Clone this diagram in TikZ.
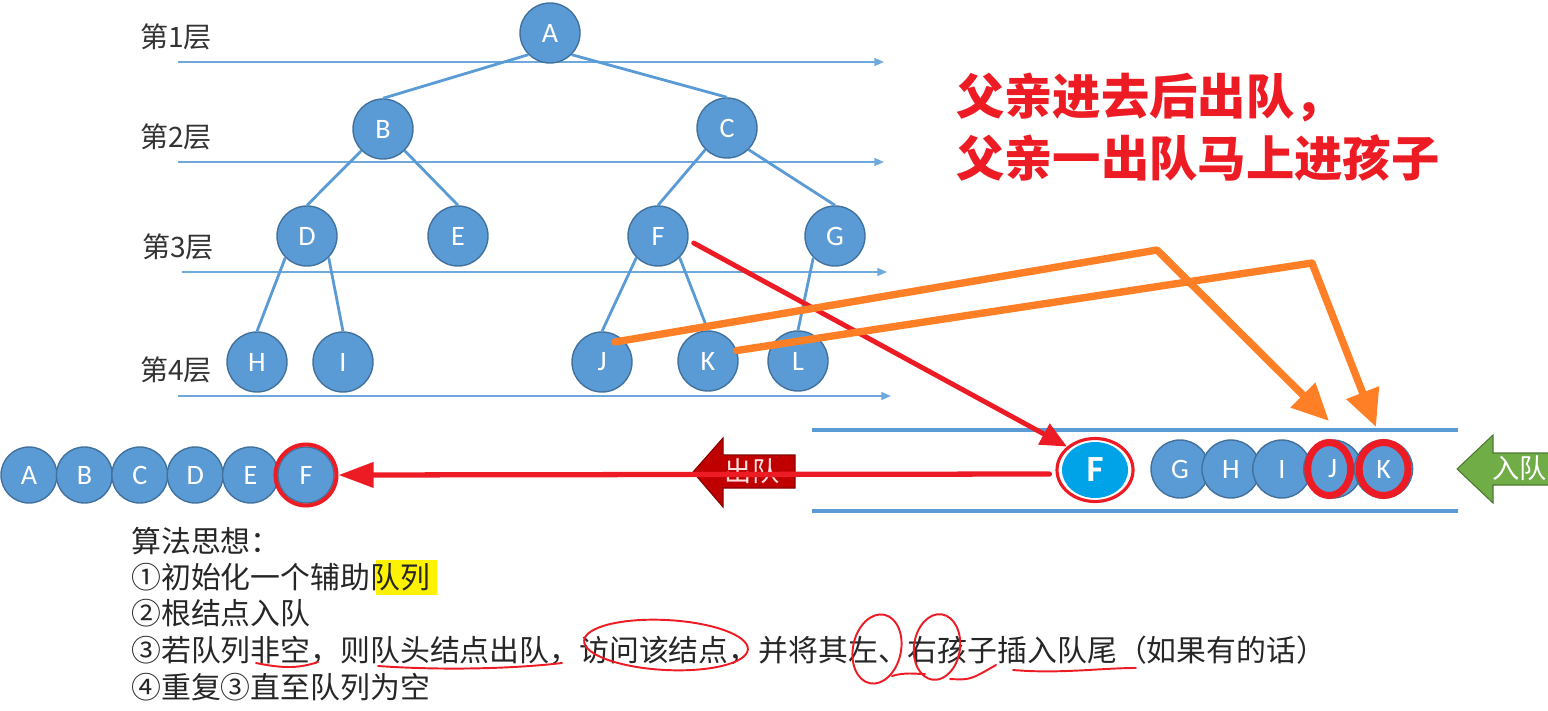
\documentclass[tikz,border=0pt]{standalone}
\usepackage{fontspec}
\setmainfont{Carlito}
\newfontfamily\cjk{Noto Sans CJK SC}
\usetikzlibrary{arrows.meta, positioning, shapes.geometric}

\definecolor{nodeblue}{HTML}{5B9BD5}
\definecolor{nodeedge}{HTML}{41719C}
\definecolor{layerblue}{HTML}{6FA8DC}
\definecolor{markred}{HTML}{ED1C24}
\definecolor{feedorange}{HTML}{FF7F27}
\definecolor{headcyan}{HTML}{00A2E8}
\definecolor{outred}{HTML}{C00000}
\definecolor{ingreen}{HTML}{70AD47}

\begin{document}
\begin{tikzpicture}[
  x=0.02cm, y=-0.02cm,
  tnode/.style={circle, draw=nodeedge, line width=0.8pt, fill=nodeblue, text=white, minimum size=1.2cm, inner sep=0pt, font=\fontsize{16}{16}\selectfont},
  qnode/.style={tnode, minimum size=1.12cm},
  branch/.style={nodeblue, line width=1.6pt},
  layerline/.style={layerblue, line width=1pt, -{Triangle[length=5.5pt, width=4.5pt]}},
  layertext/.style={font=\cjk\fontsize{16}{16}\selectfont, text=black!80},
  ring/.style={draw=markred, inner sep=0pt},
  redarrow/.style={markred, line width=2.8pt, line cap=round, -{Triangle[length=15pt, width=13pt]}},
  feed/.style={feedorange, line width=4.2pt, line cap=round, line join=round, -{Triangle[length=21pt, width=19pt]}},
  chan/.style={nodeblue, line width=2.2pt},
  steptext/.style={anchor=west, inner sep=0pt, font=\cjk\fontsize{17}{17}\selectfont, text=black!85},
  pen/.style={markred, line width=1.1pt, line cap=round}
]
  \useasboundingbox (0,0) rectangle (1548,710);

  % layer lines
  \draw[layerline] (178,62) -- (884,62);
  \draw[layerline] (178,162) -- (884,162);
  \draw[layerline] (182,272) -- (887,272);
  \draw[layerline] (178,396) -- (891,396);
  \node[layertext] (lv1) at (176,37) {第1层};
  \node[layertext] (lv2) at (176,137) {第2层};
  \node[layertext] (lv3) at (178,247) {第3层};
  \node[layertext] (lv4) at (176,370) {第4层};

  % tree
  \node[tnode] (tA) at (550,33) {A};
  \node[tnode] (tB) at (383,129) {B};
  \node[tnode] (tC) at (727,128) {C};
  \node[tnode] (tD) at (307,236) {D};
  \node[tnode] (tE) at (458,236) {E};
  \node[tnode] (tF) at (658,236) {F};
  \node[tnode] (tG) at (835,236) {G};
  \node[tnode] (tH) at (257,362) {H};
  \node[tnode] (tI) at (343,362) {I};
  \node[tnode] (tJ) at (602,362) {J};
  \node[tnode] (tK) at (708,361) {K};
  \node[tnode] (tL) at (798,361) {L};

  \draw[branch] (tA.south west) -- (tB.north);
  \draw[branch] (tA.south east) -- (tC.north);
  \draw[branch] (tB.south west) -- (tD.north);
  \draw[branch] (tB.south east) -- (tE.north);
  \draw[branch] (tC.south west) -- (tF.north);
  \draw[branch] (tC.south east) -- (tG.north);
  \draw[branch] (tD.south west) -- (tH.north);
  \draw[branch] (tD.south east) -- (tI.north);
  \draw[branch] (tF.south west) -- (tJ.north);
  \draw[branch] (tF.south east) -- (tK.north);
  \draw[branch] (tG.south west) -- (tL.north);

  % visited sequence
  \node[qnode] (oA) at (29,475) {A};
  \node[qnode, right=-0.04cm of oA] (oB) {B};
  \node[qnode, right=-0.04cm of oB] (oC) {C};
  \node[qnode, right=-0.04cm of oC] (oD) {D};
  \node[qnode, right=-0.04cm of oD] (oE) {E};
  \node[qnode, right=-0.04cm of oE] (oF) {F};
  \node[ring, circle, line width=2.3pt, minimum size=1.22cm] (rF) at (oF) {};

  % queue
  \draw[chan] (812,430) -- (1458,430);
  \draw[chan] (812,511) -- (1458,511);
  \fill[outred, draw=outred!70!black, line width=0.6pt] (693,472) -- (723,438) -- (723,455) -- (795,455)
    -- (795,488) -- (723,488) -- (723,507) -- cycle;
  \node[font=\cjk\fontsize{15.5}{16}\selectfont, text=red!12!white] (outtag) at (752,471) {出队};
  \fill[ingreen, draw=ingreen!70!black, line width=0.6pt] (1457,469) -- (1493,435) -- (1493,453) -- (1560,453)
    -- (1560,485) -- (1493,485) -- (1493,503) -- cycle;
  \node[anchor=west, inner sep=0pt, font=\cjk\fontsize{15.5}{16}\selectfont, text=white] (intag) at (1492,468) {入队};

  \node[ellipse, fill=headcyan, text=white, minimum width=1.32cm, minimum height=1.12cm, inner sep=0pt,
    font=\bfseries\fontsize{21}{21}\selectfont] (qF) at (1095,470) {F};
  \node[ring, ellipse, line width=1.8pt, minimum width=1.52cm, minimum height=1.26cm] (rQF) at (qF) {};
  \node[tnode, minimum size=1.16cm] (qG) at (1180,469) {G};
  \node[tnode, minimum size=1.16cm, right=-0.17cm of qG] (qH) {H};
  \node[tnode, minimum size=1.16cm, right=-0.17cm of qH] (qI) {I};
  \node[tnode, minimum size=1.16cm, right=-0.17cm of qI] (qJ) {J};
  \node[tnode, minimum size=1.16cm, right=-0.17cm of qJ] (qK) {K};
  \node[ring, ellipse, line width=4pt, minimum width=0.86cm, minimum height=1.06cm] (rJ) at ([xshift=-2pt]qJ) {};
  \node[ring, ellipse, line width=4pt, minimum width=0.98cm, minimum height=1.06cm] (rK) at (qK) {};

  % father out, children in
  \draw[redarrow] ([shift={(5,7)}]tF.east) -- (rQF.north west);
  \draw[redarrow, line width=3pt, -{Triangle[length=20pt, width=14pt]}] ([shift={(-6,4)}]rQF.west) -- (rF.east);
  \coordinate (jIn) at (1329,421);
  \coordinate (kIn) at (1376,427);
  \draw[feed] ([shift={(13,-20)}]tJ.center) -- (1157,250) -- (jIn);
  \draw[feed] (tK.20) -- (1312,263) -- (kIn);

  \node[anchor=west, align=left, font=\cjk\bfseries\fontsize{27.5}{35.7}\selectfont, text=markred] (note) at (950,127)
    {父亲进去后出队，\\父亲一出队马上进孩子};

  % algorithm
  \fill[yellow] (376,560) rectangle (437,595);
  \node[steptext] (s0) at (131,541) {算法思想：};
  \node[steptext] (s1) at (131,577) {①初始化一个辅助队列};
  \node[steptext] (s2) at (131,613) {②根结点入队};
  \node[steptext] (s3) at (131,650) {③若队列非空，则队头结点出队，访问该结点，并将其左、右孩子插入队尾（如果有的话）};
  \node[steptext] (s4) at (131,687) {④重复③直至队列为空};

  \draw[pen] (256,663) .. controls (285,669) and (300,668) .. (318,662);
  \draw[pen] (378,666) .. controls (450,671) and (520,668) .. (562,663);
  \draw[pen, rotate around={-3:(666,645)}] (666,645) ellipse [x radius=1.64cm, y radius=0.5cm];
  \draw[pen, rotate around={-12:(877,649)}] (877,649) ellipse [x radius=0.48cm, y radius=0.7cm];
  \draw[pen, rotate around={-8:(937,647)}] (937,647) ellipse [x radius=0.46cm, y radius=0.66cm];
  \draw[pen] (892,676) .. controls (905,672) and (915,674) .. (925,674);
  \draw[pen] (950,679) .. controls (970,680) .. (996,665);
  \draw[pen] (1013,670) .. controls (1060,674) and (1100,668) .. (1136,668);
\end{tikzpicture}
\end{document}
